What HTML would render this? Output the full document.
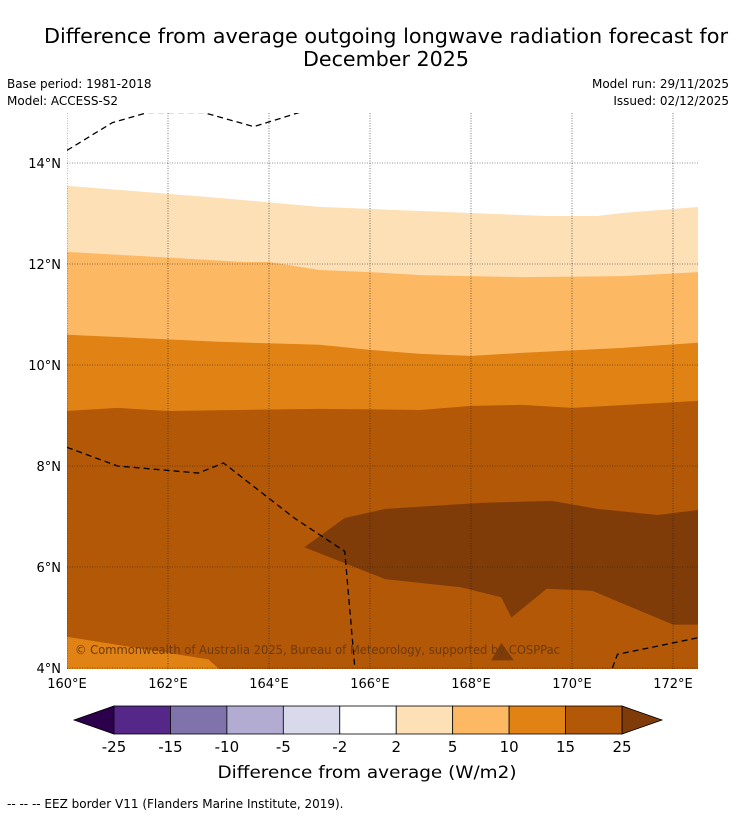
<!DOCTYPE html>
<html><head><meta charset="utf-8"><style>
body{margin:0;background:#fff;font-family:"DejaVu Sans","Liberation Sans",sans-serif;}
</style></head><body>
<svg width="736" height="816" xmlns="http://www.w3.org/2000/svg" font-family="DejaVu Sans, Liberation Sans, sans-serif">
<text x="386" y="43" font-size="20" text-anchor="middle" textLength="684" lengthAdjust="spacingAndGlyphs">Difference from average outgoing longwave radiation forecast for</text>
<text x="386" y="66" font-size="20" text-anchor="middle" textLength="166" lengthAdjust="spacingAndGlyphs">December 2025</text>
<text x="7" y="88" font-size="12">Base period: 1981-2018</text>
<text x="7" y="105" font-size="12">Model: ACCESS-S2</text>
<text x="729" y="88" font-size="12" text-anchor="end">Model run: 29/11/2025</text>
<text x="729" y="105" font-size="12" text-anchor="end">Issued: 02/12/2025</text>
<defs><clipPath id="mc"><rect x="67" y="113" width="631" height="556"/></clipPath></defs>
<g id="map" clip-path="url(#mc)"></g>
<g id="axes"></g>
<g id="cbar"></g>
<text x="367" y="778" font-size="17" text-anchor="middle" textLength="299" lengthAdjust="spacingAndGlyphs">Difference from average (W/m2)</text>
<text x="7" y="808" font-size="12">--  --  -- EEZ border V11 (Flanders Marine Institute, 2019).</text>
</svg>
<script>
const lonTicks=[160,162,164,166,168,170,172];
const latTicks=[4,6,8,10,12,14];
const bandColors=["#ffffff","#fee0b6","#fdb863","#e08214","#b35806"];
const b1Lon=[160,163,165,167,169.5,170.5,171,172.5];
const b1Lat=[13.55,13.31,13.13,13.05,12.95,12.95,13.01,13.13];
const b2Lon=[160,163.5,164,165,166,167,168,169,171,172.5];
const b2Lat=[12.24,12.04,12.04,11.88,11.84,11.78,11.76,11.74,11.76,11.84];
const b3Lon=[160,163,165,166,167,168,169,171,172.5];
const b3Lat=[10.6,10.46,10.4,10.3,10.22,10.18,10.24,10.34,10.44];
const b4Lon=[160,161,162,165,167,168,169,170,172.5];
const b4Lat=[9.09,9.15,9.09,9.13,9.11,9.19,9.21,9.15,9.29];
const lowLon=[160,162.8,163.3,163.8];
const lowLat=[4.62,4.17,3.72,3.5];
const darkLon=[164.7,165.5,166.3,168.2,169.6,170.5,171.7,172.5,172.5,172,170.4,169.5,168.8,168.6,167.8,166.3,164.7];
const darkLat=[6.39,6.97,7.15,7.27,7.31,7.15,7.03,7.13,4.86,4.86,5.53,5.57,5.0,5.4,5.6,5.76,6.39];
const eezA=[[160,14.25],[160.9,14.8],[161.6,15],[162.7,15],[163.7,14.72],[164.6,15]];
const eezB=[[160,8.37],[161,8.0],[162.6,7.86],[163.1,8.06],[164.5,6.97],[165.5,6.31],[165.7,4]];
const eezC=[[170.8,4],[170.9,4.27],[172.5,4.6]];
const cbLevels=["-25","-15","-10","-5","-2","2","5","10","15","25"];
const cbColors=["#542788","#8073ac","#b2abd2","#d8daeb","#ffffff","#fee0b6","#fdb863","#e08214","#b35806"];
const cbEnds=["#2d004b","#7f3b08"];
const NS="http://www.w3.org/2000/svg";
const X=lon=>67+(lon-160)*50.5;
const Y=lat=>668-(lat-4)*50.5;
function mk(t,a,p){const e=document.createElementNS(NS,t);for(const k in a)e.setAttribute(k,a[k]);p.appendChild(e);return e;}
const map=document.getElementById('map');
function bandPoly(lons,lats){return lons.map((l,i)=>X(l)+','+Y(lats[i])).join(' ');}
const bounds=[[b1Lon,b1Lat],[b2Lon,b2Lat],[b3Lon,b3Lat],[b4Lon,b4Lat]];
let r=mk('rect',{x:67,y:113,width:631,height:556,fill:bandColors[0]},map);

bounds.forEach((b,i)=>{
  const pts=bandPoly(b[0],b[1])+' '+X(172.6)+','+Y(3.9)+' '+X(159.9)+','+Y(3.9);
  const p=mk('polygon',{points:pts,fill:bandColors[i+1]},map);
  
  
});
let low=mk('polygon',{points:bandPoly(lowLon,lowLat)+' '+X(159.9)+','+Y(3.5),fill:"#e08214"},map);

let dk=mk('polygon',{points:bandPoly(darkLon,darkLat),fill:"#7f3b08"},map);

let blob=mk('polygon',{points:X(168.4)+','+Y(4.15)+' '+X(168.6)+','+Y(4.5)+' '+X(168.85)+','+Y(4.15),fill:"#7f3b08"},map);

lonTicks.forEach(l=>{const g=mk('line',{x1:X(l),x2:X(l),y1:113,y2:669,stroke:"#222","stroke-width":0.6,"stroke-dasharray":"1,1.5"},map);});
latTicks.forEach(l=>{const g=mk('line',{x1:67,x2:698,y1:Y(l),y2:Y(l),stroke:"#222","stroke-width":0.6,"stroke-dasharray":"1,1.5"},map);});
[eezA,eezB,eezC].forEach(e=>{const p=mk('polyline',{points:e.map(q=>X(q[0])+','+Y(q[1])).join(' '),fill:"none",stroke:"#000","stroke-width":1.3,"stroke-dasharray":"6,4"},map);});
const cr=mk('text',{x:75,y:654,"font-size":12,fill:"#6b3a10",textLength:485,lengthAdjust:"spacingAndGlyphs"},map);cr.textContent="© Commonwealth of Australia 2025, Bureau of Meteorology, supported by COSPPac";

const ax=document.getElementById('axes');
lonTicks.forEach(l=>{const t=mk('text',{x:X(l),y:688,"font-size":13,"text-anchor":"middle"},ax);t.textContent=l+"°E";});
latTicks.forEach(l=>{const t=mk('text',{x:61,y:Y(l)+5,"font-size":13,"text-anchor":"end"},ax);t.textContent=l+"°N";});
const cb=document.getElementById('cbar');
const cx0=114,cx1=622,cy=706,ch=28,w=(cx1-cx0)/cbColors.length;
let lt=mk('polygon',{points:`74,${cy+ch/2} ${cx0},${cy} ${cx0},${cy+ch}`,fill:cbEnds[0],stroke:"#000","stroke-width":0.8},cb);
let rt=mk('polygon',{points:`662,${cy+ch/2} ${cx1},${cy} ${cx1},${cy+ch}`,fill:cbEnds[1],stroke:"#000","stroke-width":0.8},cb);
cbColors.forEach((c,i)=>{const b=mk('rect',{x:cx0+i*w,y:cy,width:w,height:ch,fill:c,stroke:"#000","stroke-width":0.8},cb);});
cbLevels.forEach((s,i)=>{const t=mk('text',{x:cx0+i*w,y:752,"font-size":15,"text-anchor":"middle"},cb);t.textContent=s;});
</script>
</body></html>
